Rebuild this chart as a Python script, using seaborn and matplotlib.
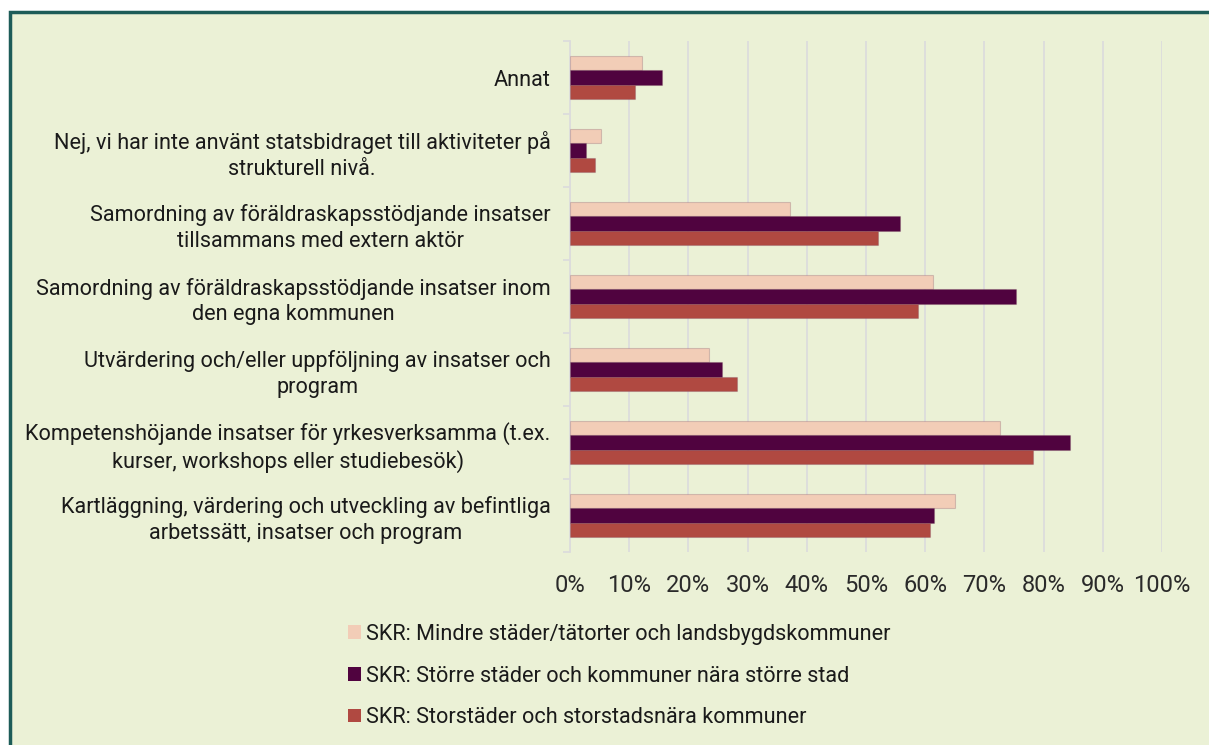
import matplotlib
matplotlib.use("Agg")
import matplotlib.pyplot as plt
from matplotlib.patches import Rectangle
from matplotlib.ticker import FixedLocator

import seaborn as sns
import pandas as pd

# Categories, top to bottom as in the chart
categories = [
    "Annat",
    "Nej, vi har inte använt statsbidraget till aktiviteter på\nstrukturell nivå.",
    "Samordning av föräldraskapsstödjande insatser\ntillsammans med extern aktör",
    "Samordning av föräldraskapsstödjande insatser inom\nden egna kommunen",
    "Utvärdering och/eller uppföljning av insatser och\nprogram",
    "Kompetenshöjande insatser för yrkesverksamma (t.ex.\nkurser, workshops eller studiebesök)",
    "Kartläggning, värdering och utveckling av befintliga\narbetssätt, insatser och program",
]

groups = [
    "SKR: Mindre städer/tätorter och landsbygdskommuner",
    "SKR: Större städer och kommuner nära större stad",
    "SKR: Storstäder och storstadsnära kommuner",
]

# Share of municipalities (%) per group
mindre = [12.1, 5.2, 37.1, 61.4, 23.5, 72.7, 65.1]
storre = [15.6, 2.7, 55.8, 75.3, 25.6, 84.4, 61.5]
storstad = [10.9, 4.3, 52.1, 58.7, 28.2, 78.2, 60.8]

tick_values = [0, 10, 20, 30, 40, 50, 60, 70, 80, 90, 100]

colors = ["#F2CDB7", "#50033F", "#B04941"]
bg = "#EBF1D6"

# Long-form table for seaborn
df = pd.DataFrame({
    "category": categories * 3,
    "group": [g for g in groups for _ in categories],
    "value": mindre + storre + storstad,
})

sns.set_theme(style="white")
plt.rcParams["font.family"] = ["Roboto", "DejaVu Sans"]

fig = plt.figure(figsize=(12.09, 7.45), dpi=100, facecolor="white")

# Framed box behind the chart (right and bottom edges are cut off)
fig.patches.append(Rectangle((10 / 1209, -0.05), 1.2, 1 - 12 / 745 + 0.05,
                             transform=fig.transFigure, facecolor=bg,
                             edgecolor="#1D5C58", linewidth=2.5, zorder=-1))

ax = fig.add_axes([570 / 1209, 1 - 552 / 745, 592 / 1209, 511 / 745])
ax.set_zorder(2)
ax.set_facecolor("none")

sns.barplot(data=df, y="category", x="value", hue="group", orient="h",
            palette=colors, saturation=1, width=0.58,
            edgecolor=(0.45, 0.25, 0.35, 0.25), linewidth=0.8, ax=ax, zorder=3)

ax.set_xlim(0, 100)
ax.set_ylim(len(categories) - 0.5, -0.5)
ax.set_xticks(tick_values)
ax.set_xticklabels([f"{v}%" for v in tick_values])
ax.set_xlabel("")
ax.set_ylabel("")

# Vertical gridlines
ax.grid(axis="x", color="#DCDCDC", linewidth=1.3, zorder=0)
ax.set_axisbelow(True)

for side in ["top", "right", "bottom"]:
    ax.spines[side].set_visible(False)
ax.spines["left"].set_color("#DCDCDC")
ax.spines["left"].set_linewidth(1.3)

# Ticks between category groups on the left spine
ax.yaxis.set_minor_locator(FixedLocator([i - 0.5 for i in range(len(categories) + 1)]))
ax.tick_params(axis="y", which="minor", length=5, width=1.3, color="#DCDCDC", left=True)
ax.tick_params(axis="y", which="major", length=0, pad=14, labelsize=15.6, labelcolor="#1A1A1A")
ax.tick_params(axis="x", length=0, pad=16, labelsize=17, labelcolor="#2A2A2A")
for lab in ax.get_yticklabels():
    lab.set_multialignment("center")
    lab.set_linespacing(1.3)

# Legend stacked below the chart, plain squares without outline
handles, labels = ax.get_legend_handles_labels()
ax.legend_.remove()
for h, c in zip(handles, colors):
    h.set_facecolor(c)
    h.set_edgecolor("none")
fig.legend(handles, labels, loc="upper left", bbox_to_anchor=(348 / 1209, 1 - 624 / 745),
           frameon=False, fontsize=15.6, handlelength=0.6, handleheight=0.6,
           handletextpad=0.25, labelspacing=0.95, borderpad=0, borderaxespad=0,
           labelcolor="#1A1A1A")

fig.savefig("out.png", dpi=100, facecolor="white")
plt.close(fig)
